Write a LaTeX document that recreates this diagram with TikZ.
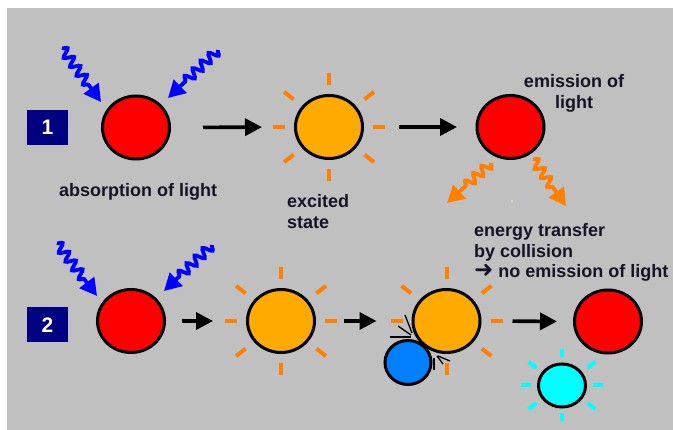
\documentclass[tikz,border=0pt]{standalone}
\usepackage{fontspec}
\setmainfont{Liberation Sans}
\newfontfamily\dejavu{DejaVu Sans}
\usetikzlibrary{arrows.meta,decorations.pathmorphing,shapes.geometric}
\definecolor{bg}{RGB}{192,192,192}
\definecolor{navy}{RGB}{0,0,128}
\definecolor{redfill}{RGB}{255,0,0}
\definecolor{orangefill}{RGB}{255,170,0}
\definecolor{rayorange}{RGB}{255,128,0}
\definecolor{ballblue}{RGB}{0,128,255}
\definecolor{cyanfill}{RGB}{0,255,255}
\definecolor{photonblue}{RGB}{0,0,255}
\definecolor{txt}{RGB}{20,20,35}
\definecolor{dotyellow}{RGB}{240,240,80}
\tikzset{
  ball/.style={ellipse, draw=black, line width=3pt, inner sep=0pt,
    minimum width=67pt, minimum height=63pt},
  smallball/.style={ellipse, draw=black, line width=3pt, inner sep=0pt,
    minimum width=46pt, minimum height=44pt},
  numbox/.style={fill=navy, text=white, inner sep=0pt,
    font=\bfseries\fontsize{21}{21}\selectfont,
    minimum width=41pt, minimum height=35pt},
  lbl/.style={text=txt, inner sep=0pt,
    font=\bfseries\fontsize{18}{20.5}\selectfont},
  arr/.style={line width=3.6pt, -{Triangle[length=17pt,width=17pt]}},
  wave/.style={line width=3.8pt, decorate,
    decoration={snake, amplitude=4.5pt, segment length=11pt, post length=20pt},
    -{Triangle[length=17pt,width=18pt]}},
  rayline/.style={line width=4pt},
  orangerays/.pic={
    \foreach \a/\ri/\ro in {0/44/56,180/44/56,90/42/54,270/42/54,
        38/45/57,142/45/57,218/45/57,322/45/57}
      \draw[rayline, rayorange] (\a:\ri) -- (\a:\ro);
  },
  cyanrays/.pic={
    \foreach \a/\ri/\ro in {0/31/41,180/31/41,90/28/36,270/28/36,
        35/31/41,145/31/41,215/31/41,325/31/41}
      \draw[rayline, cyanfill] (\a:\ri) -- (\a:\ro);
  },
  impact/.style={line width=1.3pt, black}
}
\begin{document}
\begin{tikzpicture}[x=1pt,y=-1pt]
\useasboundingbox (0,0) rectangle (673,430);
\fill[white] (0,0) rectangle (673,430);
\fill[bg] (7,8) rectangle (673,430);

% ---------- row 1 ----------
\node[numbox] (n1) at (47.5,127.5) {1};
\node[ball, fill=redfill] (r1) at (136,127.5) {};
\pic at (329,127) {orangerays};
\node[ball, fill=orangefill] (o1) at (329,127) {};
\node[ball, fill=redfill] (r2) at (510.5,127) {};

\draw[arr, shorten <=32pt, shorten >=32pt] (r1.east) -- (o1.west);
\draw[arr, shorten <=35pt, shorten >=18.5pt] (o1.east) -- (r2.west);

\coordinate (b1s) at (62,48);  \coordinate (b1e) at (101,102);
\coordinate (b2s) at (218,50); \coordinate (b2e) at (168,98);
\draw[wave, photonblue] (b1s) -- (b1e);
\draw[wave, photonblue] (b2s) -- (b2e);

\coordinate (e1s) at (491,163); \coordinate (e1e) at (447,203);
\coordinate (e2s) at (533,159); \coordinate (e2e) at (566,206);
\draw[wave, rayorange] (e1s) -- (e1e);
\draw[wave, rayorange] (e2s) -- (e2e);
\fill[dotyellow] (512,201) circle (1.2);

\node[lbl, anchor=base] (t1) at (138,196.7) {absorption of light};
\node[lbl, anchor=base west, align=left] (t2) at (287,228.5) {excited\\state};
\node[lbl, anchor=base, align=center] (t3) at (574,108.5) {emission of\\light};

% ---------- row 2 ----------
\node[numbox] (n2) at (47.5,325) {2};
\node[ball, fill=redfill] (r3) at (131,321) {};
\pic at (281,321) {orangerays};
\node[ball, fill=orangefill] (o2) at (281,321) {};
\pic at (446.5,321) {orangerays};
\node[ball, fill=orangefill] (o3) at (446.5,321) {};
\node[smallball, fill=ballblue] (bb) at (408,362.5) {};
\node[ball, fill=redfill] (r4) at (608,321.5) {};
\pic at (562,385.5) {cyanrays};
\node[smallball, fill=cyanfill, minimum width=47pt, minimum height=43pt] (cb) at (562,385.5) {};

\draw[arr, shorten <=15.5pt, shorten >=33pt] (r3.east) -- (o2.west);
\draw[arr, shorten <=28pt, shorten >=35pt] (o2.east) -- (o3.west);
\draw[arr, shorten <=31pt, shorten >=16pt] (o3.east) -- (r4.west);

\coordinate (b3s) at (57,243);  \coordinate (b3e) at (97,296);
\coordinate (b4s) at (212,245); \coordinate (b4e) at (164,291);
\draw[wave, photonblue] (b3s) -- (b3e);
\draw[wave, photonblue] (b4s) -- (b4e);

% collision marks
\draw[impact] (390,337) -- (411,337);
\draw[impact] (398,326) -- (411,335);
\draw[impact] (405,315) -- (412,333);
\draw[impact] (434,358) -- (434,370);
\draw[impact] (437,356) -- (443,364);
\draw[impact] (438,356) -- (450,361);

\node[lbl, anchor=base west, align=left] (t4) at (474,278)
  {energy transfer\\by collision\\{\dejavu\fontsize{23}{20.5}\selectfont ➜} no emission of light};
\end{tikzpicture}
\end{document}
